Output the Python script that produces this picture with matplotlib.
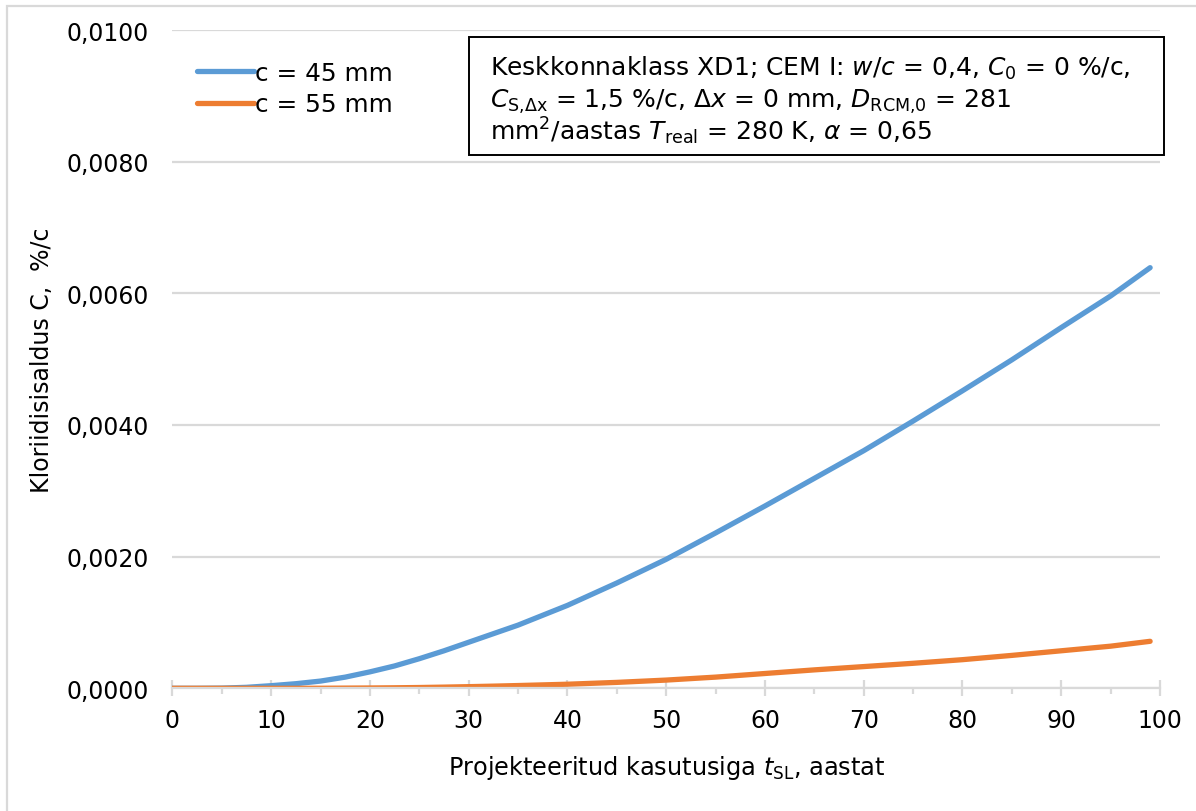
import matplotlib
matplotlib.use("Agg")
import matplotlib.pyplot as plt
from matplotlib.patches import Rectangle
from matplotlib.ticker import FuncFormatter, MultipleLocator

plt.rcParams['font.family'] = ['DejaVu Sans']
plt.rcParams['mathtext.fontset'] = 'dejavusans'

# andmed (loetud jooniselt)
years = [0, 2.5, 5, 7.5, 10, 12.5, 15, 17.5, 20, 22.5, 25, 27.5, 30, 32.5, 35, 37.5, 40, 45,
         50, 55, 60, 65, 70, 75, 80, 85, 90, 95, 99]
c45 = [0, 0, 0.000003, 0.000015, 0.00004, 0.00007, 0.00011, 0.00017, 0.00025, 0.00034,
       0.00045, 0.00057, 0.00070, 0.00083, 0.00096, 0.00111, 0.00126, 0.00160,
       0.00196, 0.00236, 0.00277, 0.00319, 0.00361, 0.00406, 0.00452, 0.00499, 0.00548,
       0.00596, 0.00639]
c55 = [0, 0, 0, 0, 0, 0, 0.000001, 0.000003, 0.000005, 0.000008, 0.000012, 0.000018,
       0.000025, 0.000033, 0.000042, 0.000052, 0.000062, 0.000090,
       0.000125, 0.000170, 0.000225, 0.000280, 0.000330, 0.000380, 0.000435, 0.000500,
       0.000570, 0.000640, 0.000714]
labels = ["c = 45 mm", "c = 55 mm"]
info_lines = [
    r"Keskkonnaklass XD1; CEM I: $w/c$ = 0,4, $C_0$ = 0 %/c,",
    r"$C_{\mathrm{S{,}\Delta x}}$ = 1,5 %/c, $\Delta x$ = 0 mm, $D_{\mathrm{RCM{,}0}}$ = 281",
    r"mm$^2$/aastas $T_{\mathrm{real}}$ = 280 K, $\alpha$ = 0,65",
]

BLUE = "#5B9BD5"
ORANGE = "#ED7D31"
GRID = "#D9D9D9"
FS = 17

fig = plt.figure(figsize=(11.96, 8.12), dpi=100)
ax = fig.add_axes([0.1442, 0.1511, 0.8257, 0.8107])

ax.plot(years, c45, color=BLUE, lw=3.8, solid_capstyle='round', label=labels[0])
ax.plot(years, c55, color=ORANGE, lw=3.8, solid_capstyle='round', label=labels[1])

ax.set_xlim(0, 100)
ax.set_ylim(0, 0.01)
ax.xaxis.set_major_locator(MultipleLocator(10))
ax.xaxis.set_minor_locator(MultipleLocator(5))
ax.yaxis.set_major_locator(MultipleLocator(0.002))
ax.yaxis.set_major_formatter(FuncFormatter(lambda v, p: f"{v:.4f}".replace('.', ',')))

ax.grid(axis='y', color=GRID, lw=1.6)
ax.set_axisbelow(True)
for s in ['top', 'right', 'left']:
    ax.spines[s].set_visible(False)
ax.spines['bottom'].set_color(GRID)
ax.spines['bottom'].set_linewidth(1.6)

ax.tick_params(axis='y', length=0, pad=17, labelsize=FS)
ax.tick_params(axis='x', which='major', direction='inout', length=11, width=1.6,
               color=GRID, pad=9, labelsize=FS)
ax.tick_params(axis='x', which='minor', direction='out', length=4, width=1.6, color=GRID)

ax.set_xlabel(r"Projekteeritud kasutusiga $t_{\mathrm{SL}}$, aastat", fontsize=17.3)
ax.xaxis.set_label_coords(0.5, -0.1196)
ax.xaxis.label.set_va('center')
ax.set_ylabel("Kloriidisisaldus C,  %/c", fontsize=FS)
ax.yaxis.set_label_coords(-0.1322, 0.5)
ax.yaxis.label.set_va('center')

ax.legend(loc='upper left', bbox_to_anchor=(0.015, 0.968), frameon=False, fontsize=17.8,
          handlelength=2.3, handletextpad=0.05, labelspacing=0.3, borderaxespad=0)

# infokast
ax.add_patch(Rectangle((0.3003, 0.8101), 0.7037, 0.1793, transform=ax.transAxes,
                       fill=False, edgecolor='black', lw=1.4, clip_on=False))
for i, line in enumerate(info_lines):
    ax.text(0.3215, 0.9316 - i * 0.0486, line, transform=ax.transAxes,
            fontsize=18, va='baseline', ha='left')

# joonise raam
fig.patches.append(Rectangle((7 / 1196, -0.05), 1.1, 1.05 - 7 / 812, transform=fig.transFigure,
                             fill=False, edgecolor=GRID, lw=1.6))

fig.savefig("out.png", dpi=100)
